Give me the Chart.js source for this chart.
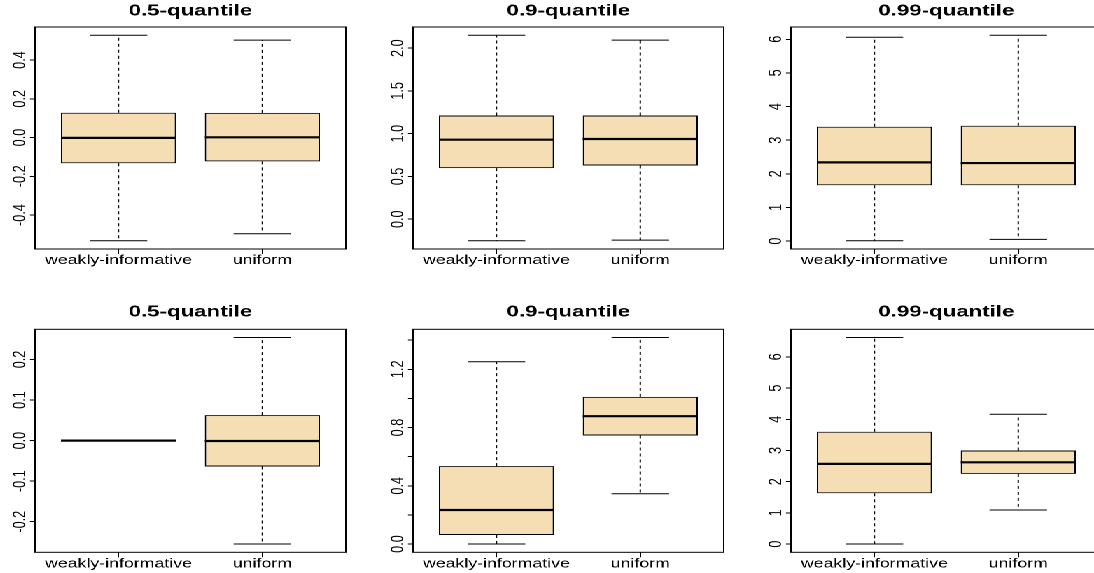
<!DOCTYPE html>
<html>
<head>
<meta charset="utf-8">
<script src="https://cdn.jsdelivr.net/npm/chart.js@4.4.1/dist/chart.umd.min.js"></script>
<style>
html,body{margin:0;padding:0;background:#fff;overflow:hidden;width:1094px;height:573px;}
#stage{position:absolute;left:0;top:0;width:781.43px;height:573px;transform:scaleX(1.4);transform-origin:0 0;}
#stage canvas{position:absolute;}
</style>
</head>
<body>
<div id="stage"></div>
<script>
// ---- data ----
const categories = ['weakly-informative', 'uniform'];
const panelTitles = ['0.5-quantile', '0.9-quantile', '0.99-quantile', '0.5-quantile', '0.9-quantile', '0.99-quantile'];
const lowerWhisker = [[-0.533, -0.497], [-0.252, -0.244], [0.01, 0.05], [0, -0.255], [0, 0.345], [0, 1.09]];
const lowerHinge   = [[-0.133, -0.123], [0.597, 0.628], [1.66, 1.66], [0, -0.064], [0.062, 0.745], [1.63, 2.25]];
const medians      = [[-0.002, 0.001], [0.930, 0.938], [2.34, 2.32], [0, -0.001], [0.234, 0.878], [2.57, 2.62]];
const upperHinge   = [[0.128, 0.127], [1.213, 1.213], [3.40, 3.43], [0, 0.0627], [0.535, 1.011], [3.60, 3.00]];
const upperWhisker = [[0.528, 0.503], [2.151, 2.093], [6.06, 6.12], [0, 0.254], [1.252, 1.418], [6.62, 4.16]];
const yTicks = [
  [-0.4, -0.2, 0, 0.2, 0.4],
  [0, 0.5, 1, 1.5, 2],
  [0, 1, 2, 3, 4, 5, 6],
  [-0.2, -0.1, 0, 0.1, 0.2],
  [0, 0.2, 0.4, 0.6, 0.8, 1.0, 1.2, 1.4],
  [0, 1, 2, 3, 4, 5, 6]
];
const yTickLabels = [
  ['-0.4', '-0.2', '0.0', '0.2', '0.4'],
  ['0.0', '0.5', '1.0', '1.5', '2.0'],
  ['0', '1', '2', '3', '4', '5', '6'],
  ['-0.2', '-0.1', '0.0', '0.1', '0.2'],
  ['0.0', '', '0.4', '', '0.8', '', '1.2', ''],
  ['0', '1', '2', '3', '4', '5', '6']
];

// ---- layout / style ----
const FONT = "'Liberation Sans', Arial, Helvetica, sans-serif";
const AXIS_FONT = 12.7;
const TITLE_FONT = 15.9;
const TITLE_LH = 1.2;
const rows = [
  {top: 0,   height: 287, titleMid: 11.2, plotTop: 27,   plotBottom: 249},
  {top: 290, height: 283, titleMid: 21.9, plotTop: 39.3, plotBottom: 262.3}
];
const COL_STEP = 270.2, AXIS_W = 25, CANVAS_W = 272;
const BOX_HALF = 0.4, CAP_HALF = 0.2;
const FILL = '#F5DEB3';

const decor = {
  id: 'decor',
  afterDatasetsDraw(chart, args, opts) {
    const {ctx, chartArea: a} = chart;
    const ys = chart.scales.y;
    ctx.save();
    ctx.strokeStyle = '#000';
    ctx.lineWidth = 1;
    ctx.strokeRect(a.left, a.top, a.right - a.left, a.bottom - a.top);
    ctx.fillStyle = '#000';
    ctx.font = AXIS_FONT + 'px ' + FONT;
    ctx.textAlign = 'center';
    ctx.textBaseline = 'alphabetic';
    opts.ticks.forEach((v, i) => {
      const lab = opts.labels[i];
      if (!lab) return;
      const py = ys.getPixelForValue(v);
      ctx.save();
      ctx.translate(a.left - 7.1, py);
      ctx.rotate(-Math.PI / 2);
      ctx.fillText(lab, 0, 0);
      ctx.restore();
    });
    ctx.restore();
  }
};

function buildDatasets(p) {
  const boxes = [], whisk = [], caps = [], meds = [];
  categories.forEach((c, i) => {
    const x = i + 1;
    boxes.push({x, y: [lowerHinge[p][i], upperHinge[p][i]]});
    whisk.push({x, y: upperHinge[p][i]}, {x, y: upperWhisker[p][i]}, {x, y: null},
               {x, y: lowerHinge[p][i]}, {x, y: lowerWhisker[p][i]}, {x, y: null});
    caps.push({x: x - CAP_HALF, y: upperWhisker[p][i]}, {x: x + CAP_HALF, y: upperWhisker[p][i]}, {x, y: null},
              {x: x - CAP_HALF, y: lowerWhisker[p][i]}, {x: x + CAP_HALF, y: lowerWhisker[p][i]}, {x, y: null});
    meds.push({x: x - BOX_HALF, y: medians[p][i]}, {x: x + BOX_HALF, y: medians[p][i]}, {x, y: null});
  });
  const lineBase = {type: 'line', borderColor: '#000', pointRadius: 0, spanGaps: false, fill: false, tension: 0};
  return [
    {type: 'bar', data: boxes, backgroundColor: FILL, borderColor: '#000', borderWidth: 1,
     borderSkipped: false, categoryPercentage: 0.8, barPercentage: 1, order: 3},
    Object.assign({}, lineBase, {data: whisk, borderWidth: 1, borderDash: [3, 3], order: 2}),
    Object.assign({}, lineBase, {data: caps, borderWidth: 1, order: 1}),
    Object.assign({}, lineBase, {data: meds, borderWidth: 2.2, order: 0})
  ];
}

const stage = document.getElementById('stage');
for (let p = 0; p < 6; p++) {
  const r = rows[Math.floor(p / 3)];
  const c = p % 3;
  const cv = document.createElement('canvas');
  cv.width = CANVAS_W;
  cv.height = r.height;
  cv.style.left = (c * COL_STEP) + 'px';
  cv.style.top = r.top + 'px';
  stage.appendChild(cv);

  const lo = Math.min(...lowerWhisker[p]);
  const hi = Math.max(...upperWhisker[p]);
  const pad = 0.04 * (hi - lo);
  const titleLine = TITLE_FONT * TITLE_LH;
  const padTop = r.titleMid - titleLine / 2;
  const padBottom = r.plotTop - padTop - titleLine;
  const xAxisH = r.height - r.plotBottom;

  new Chart(cv, {
    type: 'bar',
    data: {datasets: buildDatasets(p)},
    plugins: [decor],
    options: {
      responsive: false,
      animation: false,
      devicePixelRatio: 2,
      events: [],
      layout: {padding: 0},
      plugins: {
        legend: {display: false},
        tooltip: {enabled: false},
        title: {
          display: true, text: panelTitles[p], color: '#000',
          font: {family: FONT, size: TITLE_FONT, weight: 'bold', lineHeight: TITLE_LH},
          padding: {top: padTop, bottom: padBottom}
        },
        decor: {ticks: yTicks[p], labels: yTickLabels[p]}
      },
      scales: {
        x: {
          type: 'linear', position: 'bottom', min: 0.42, max: 2.58, offset: false,
          afterBuildTicks: s => { s.ticks = categories.map((c, i) => ({value: i + 1})); },
          afterFit: s => { s.height = xAxisH; },
          ticks: {
            color: '#000', padding: -1, maxRotation: 0, minRotation: 0, autoSkip: false,
            font: {family: FONT, size: AXIS_FONT},
            callback: v => categories[Math.round(v) - 1]
          },
          grid: {display: true, drawOnChartArea: false, drawTicks: true, tickLength: 5, color: '#000', lineWidth: 1, offset: false},
          border: {display: false}
        },
        y: {
          type: 'linear', position: 'left', min: lo - pad, max: hi + pad,
          afterBuildTicks: s => { s.ticks = yTicks[p].map(v => ({value: v})); },
          afterFit: s => { s.width = AXIS_W; },
          ticks: {display: false},
          grid: {display: true, drawOnChartArea: false, drawTicks: true, tickLength: 3.6, color: '#000', lineWidth: 1},
          border: {display: false}
        },
        yR: {
          type: 'linear', position: 'right', display: true,
          afterFit: s => { s.width = AXIS_W; },
          ticks: {display: false},
          grid: {display: false},
          border: {display: false}
        }
      }
    }
  });
}
</script>
</body>
</html>
